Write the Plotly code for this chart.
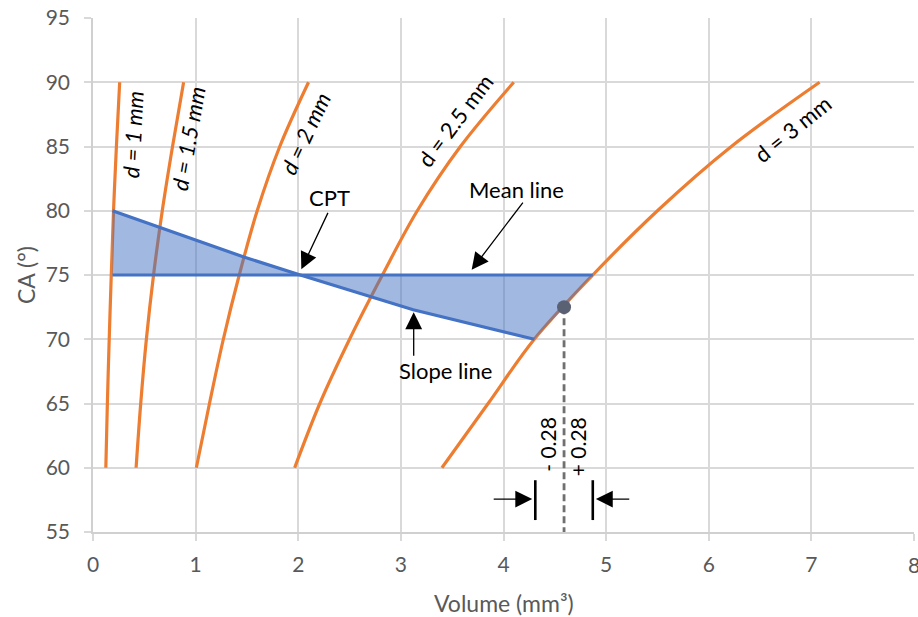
import plotly.graph_objects as go

# Contact angle grid shared by every droplet-diameter curve
ca = [60, 65, 70, 75, 80, 85, 90]

# Droplet volume (mm³) for each diameter d along the CA grid
vol_d1 = [0.125, 0.14, 0.158, 0.178, 0.20, 0.228, 0.26]
vol_d15 = [0.42, 0.465, 0.52, 0.59, 0.675, 0.775, 0.883]
vol_d2 = [1.007, 1.135, 1.27, 1.425, 1.60, 1.82, 2.10]
vol_d25 = [1.965, 2.21, 2.50, 2.82, 3.16, 3.58, 4.10]
vol_d3 = [3.40, 3.85, 4.30, 4.87, 5.50, 6.22, 7.08]

curves = [
    (vol_d1, "<i>d = 1 mm</i>"),
    (vol_d15, "<i>d = 1.5 mm</i>"),
    (vol_d2, "<i>d = 2 mm</i>"),
    (vol_d25, "d = 2.5 mm"),
    (vol_d3, "d = 3 mm"),
]

# Slope line through the CPT
slope_vol = [0.19, 0.66, 1.47, 2.02, 3.12, 4.30]
slope_ca = [80.0, 78.7, 76.4, 75.0, 72.3, 70.0]

# Mean line
mean_ca = 75.0
mean_vol_start = 0.19
mean_vol_end = vol_d3[ca.index(75)]

# Operating point and its tolerance
point_vol = 4.59
point_ca = 72.5
tol = 0.28

# Axis ticks
x_ticks = [0, 1, 2, 3, 4, 5, 6, 7, 8]
y_ticks = [55, 60, 65, 70, 75, 80, 85, 90, 95]

ORANGE = "#ED7D31"
BLUE = "#4472C4"
FONT = "Lato"
GRAY_TXT = "#595959"

fig = go.Figure()

for vols, _ in curves:
    fig.add_trace(go.Scatter(x=vols, y=ca, mode="lines",
                             line=dict(color=ORANGE, width=3.2, shape="spline", smoothing=1.0),
                             hoverinfo="skip", showlegend=False))

# Shaded area between slope line, d = 3 mm curve and mean line
fill_x = slope_vol + [point_vol, mean_vol_end, mean_vol_start]
fill_y = slope_ca + [point_ca, mean_ca, mean_ca]
fig.add_trace(go.Scatter(x=fill_x, y=fill_y, mode="lines", fill="toself",
                         fillcolor="rgba(68,114,196,0.5)", line=dict(width=0),
                         hoverinfo="skip", showlegend=False))

# Mean line and slope line
fig.add_trace(go.Scatter(x=[mean_vol_start, mean_vol_end], y=[mean_ca, mean_ca], mode="lines",
                         line=dict(color=BLUE, width=3.2), hoverinfo="skip", showlegend=False))
fig.add_trace(go.Scatter(x=slope_vol, y=slope_ca, mode="lines",
                         line=dict(color=BLUE, width=3.2), hoverinfo="skip", showlegend=False))

# Dashed drop line from the operating point to the volume axis
fig.add_trace(go.Scatter(x=[point_vol, point_vol], y=[point_ca, y_ticks[0]], mode="lines",
                         line=dict(color="#707070", width=2.8, dash="7px,4px"),
                         hoverinfo="skip", showlegend=False))
fig.add_trace(go.Scatter(x=[point_vol], y=[point_ca], mode="markers",
                         marker=dict(color="#5A6172", size=14), hoverinfo="skip", showlegend=False))

# Tolerance bars at point_vol ± tol
bar_lo, bar_hi = 55.93, 59.03
for xb in (point_vol - tol, point_vol + tol):
    fig.add_trace(go.Scatter(x=[xb, xb], y=[bar_lo, bar_hi], mode="lines",
                             line=dict(color="black", width=2.6), hoverinfo="skip", showlegend=False))

annotations = []

# Curve labels
label_pos = [(0.393, 85.9, -87), (0.93, 85.6, -80), (2.07, 86.0, -65), (3.53, 87.0, -53), (6.82, 86.4, -39)]
for (vols, name), (lx, ly, ang) in zip(curves, label_pos):
    annotations.append(dict(x=lx, y=ly, text=name, showarrow=False, textangle=ang,
                            font=dict(family=FONT, size=22, color="black")))

arrow_style = dict(showarrow=True, arrowhead=2, arrowsize=2.6, arrowwidth=1.3, arrowcolor="black",
                   axref="x", ayref="y", text="")

# CPT
annotations.append(dict(x=2.03, y=75.45, ax=2.296, ay=79.95, **arrow_style))
annotations.append(dict(x=2.30, y=81.05, text="CPT", showarrow=False,
                        font=dict(family=FONT, size=22, color="black")))
# Mean line
annotations.append(dict(x=3.69, y=75.4, ax=4.20, ay=80.75, **arrow_style))
annotations.append(dict(x=4.13, y=81.64, text="Mean line", showarrow=False,
                        font=dict(family=FONT, size=22, color="black")))
# Slope line
annotations.append(dict(x=3.125, y=72.1, ax=3.125, ay=68.6, **arrow_style))
annotations.append(dict(x=3.43, y=67.56, text="Slope line", showarrow=False,
                        font=dict(family=FONT, size=22, color="black")))

# Tolerance arrows and labels
annotations.append(dict(x=point_vol - tol - 0.03, y=57.56, ax=3.89, ay=57.56, **arrow_style))
annotations.append(dict(x=point_vol + tol + 0.03, y=57.56, ax=5.24, ay=57.56, **arrow_style))
annotations.append(dict(x=4.425, y=61.8, text=f"- {tol:.2f}", showarrow=False, textangle=-90,
                        font=dict(family=FONT, size=21, color="black")))
annotations.append(dict(x=4.717, y=61.6, text=f"+ {tol:.2f}", showarrow=False, textangle=-90,
                        font=dict(family=FONT, size=21, color="black")))

# Last x tick label sits at the very right edge of the figure
annotations.append(dict(xref="x", yref="paper", x=x_ticks[-1], y=0, yanchor="middle", yshift=-32,
                        text=str(x_ticks[-1]), showarrow=False,
                        font=dict(family=FONT, size=21, color=GRAY_TXT)))

# Axis titles
annotations.append(dict(xref="paper", yref="paper", x=0.5, y=0, yanchor="middle", yshift=-71,
                        text="Volume (mm³)", showarrow=False,
                        font=dict(family=FONT, size=23, color=GRAY_TXT)))
annotations.append(dict(xref="paper", yref="paper", x=0, y=0.5, xanchor="center", xshift=-67,
                        text="CA (°)", textangle=-90, showarrow=False,
                        font=dict(family=FONT, size=23, color=GRAY_TXT)))

axis_common = dict(showgrid=True, gridcolor="#D9D9D9", gridwidth=1.5, ticks="outside", ticklen=7,
                   tickcolor="#D9D9D9", tickwidth=1.5, showline=True, linecolor="#D0D0D0", linewidth=1.5,
                   zeroline=False, tickfont=dict(family=FONT, size=21, color=GRAY_TXT))

fig.update_layout(
    width=918, height=617,
    margin=dict(l=93, r=4, t=16, b=85),
    paper_bgcolor="white", plot_bgcolor="white",
    xaxis=dict(range=[x_ticks[0], x_ticks[-1]], tickvals=x_ticks,
               ticktext=[str(t) for t in x_ticks[:-1]] + [""], ticklabelstandoff=6, **axis_common),
    yaxis=dict(range=[y_ticks[0], y_ticks[-1]], tickvals=y_ticks, ticklabelstandoff=10, **axis_common),
    annotations=annotations,
    showlegend=False,
)

fig.write_html("out.html")
